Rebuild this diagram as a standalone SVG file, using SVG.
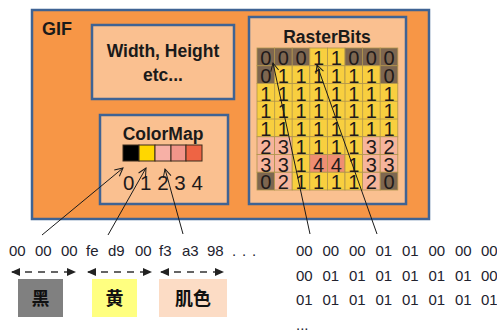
<svg xmlns="http://www.w3.org/2000/svg" width="497" height="332" viewBox="0 0 497 332">
  <style>
    .box { stroke: #3F6394; stroke-width: 2.5; }
    .outer { fill: #F79646; }
    .inner { fill: #FAC090; }
    .title { font-family: "Liberation Sans", Arial, sans-serif; font-weight: bold; fill: #1a1a1a; }
    .digit { font-family: "Liberation Sans", Arial, sans-serif; font-size: 20px; fill: #1f1a1a; text-anchor: middle; }
    .hex { font-family: "Liberation Sans", Arial, sans-serif; font-size: 15px; fill: #22222e; }
    .c0 { fill: #7D6650; } .c1 { fill: #F8CF3F; } .c2 { fill: #F6B49C; } .c3 { fill: #F6B49C; } .c4 { fill: #EF8E72; }
    .cell { stroke: #B0944C; stroke-width: 0.8; }
    .sw { stroke: #3A2A1A; stroke-width: 1; }
    .conn { stroke: #1a1a1a; stroke-width: 1; fill: none; }
    .dash { stroke: #333; stroke-width: 1.6; stroke-dasharray: 7 6; fill: none; }
    .cjk { font-family: "Noto Sans CJK SC", "Noto Sans CJK JP", sans-serif; font-weight: bold; font-size: 18px; fill: #111; text-anchor: middle; }
  </style>
  <defs>
    <marker id="open" markerWidth="10" markerHeight="10" refX="9" refY="5" orient="auto" markerUnits="userSpaceOnUse">
      <path d="M1,1 L9,5 L1,9" fill="none" stroke="#1a1a1a" stroke-width="1"/>
    </marker>
    <marker id="tri" markerWidth="9" markerHeight="8" refX="8" refY="4" orient="auto-start-reverse" markerUnits="userSpaceOnUse">
      <path d="M0,0 L9,4 L0,8 Z" fill="#222"/>
    </marker>
  </defs>

  <!-- GIF container -->
  <g id="gif">
    <rect class="box outer" x="32" y="10" width="397" height="209"/>
    <text class="title" x="42" y="35" font-size="18">GIF</text>
  </g>

  <!-- header fields -->
  <g id="header">
    <rect class="box inner" x="92" y="25" width="142" height="74"/>
    <text class="title" x="163" y="57" font-size="17.5" text-anchor="middle">Width, Height</text>
    <text class="title" x="163" y="81" font-size="17.5" text-anchor="middle">etc...</text>
  </g>

  <!-- palette -->
  <g id="colormap">
    <rect class="box inner" x="100" y="115" width="128" height="89"/>
    <text class="title" x="163" y="139.5" font-size="17.5" text-anchor="middle">ColorMap</text>
    <rect class="sw" x="123" y="145" width="16" height="16" fill="#000"/>
    <rect class="sw" x="139" y="145" width="16" height="16" fill="#FFD700"/>
    <rect class="sw" x="155" y="145" width="16" height="16" fill="#F7B0A6"/>
    <rect class="sw" x="171" y="145" width="15" height="16" fill="#F2958A"/>
    <rect class="sw" x="186" y="145" width="16" height="16" fill="#EE6444"/>
    <text x="123" y="190" font-family="Liberation Sans, Arial, sans-serif" font-size="20.5" fill="#1f1a1a">0 1 2 3 4</text>
  </g>

  <!-- pixel indices -->
  <g id="rasterbits">
    <rect class="box inner" x="249" y="17" width="157" height="187"/>
    <text class="title" x="327" y="42.5" font-size="17.5" text-anchor="middle">RasterBits</text>
    <g class="cell">
      <!-- row 0 -->
      <rect class="c0" x="257" y="48" width="17.6" height="17.75"/><rect class="c0" x="274.6" y="48" width="17.6" height="17.75"/><rect class="c0" x="292.2" y="48" width="17.6" height="17.75"/><rect class="c1" x="309.8" y="48" width="17.6" height="17.75"/><rect class="c1" x="327.4" y="48" width="17.6" height="17.75"/><rect class="c0" x="345" y="48" width="17.6" height="17.75"/><rect class="c0" x="362.6" y="48" width="17.6" height="17.75"/><rect class="c0" x="380.2" y="48" width="17.6" height="17.75"/>
      <!-- row 1 -->
      <rect class="c0" x="257" y="65.75" width="17.6" height="17.75"/><rect class="c1" x="274.6" y="65.75" width="17.6" height="17.75"/><rect class="c1" x="292.2" y="65.75" width="17.6" height="17.75"/><rect class="c1" x="309.8" y="65.75" width="17.6" height="17.75"/><rect class="c1" x="327.4" y="65.75" width="17.6" height="17.75"/><rect class="c1" x="345" y="65.75" width="17.6" height="17.75"/><rect class="c1" x="362.6" y="65.75" width="17.6" height="17.75"/><rect class="c0" x="380.2" y="65.75" width="17.6" height="17.75"/>
      <!-- rows 2-4 -->
      <rect class="c1" x="257" y="83.5" width="140.8" height="53.25"/>
      <!-- row 5 -->
      <rect class="c2" x="257" y="136.75" width="17.6" height="17.75"/><rect class="c3" x="274.6" y="136.75" width="17.6" height="17.75"/><rect class="c1" x="292.2" y="136.75" width="17.6" height="17.75"/><rect class="c1" x="309.8" y="136.75" width="17.6" height="17.75"/><rect class="c1" x="327.4" y="136.75" width="17.6" height="17.75"/><rect class="c1" x="345" y="136.75" width="17.6" height="17.75"/><rect class="c3" x="362.6" y="136.75" width="17.6" height="17.75"/><rect class="c2" x="380.2" y="136.75" width="17.6" height="17.75"/>
      <!-- row 6 -->
      <rect class="c3" x="257" y="154.5" width="17.6" height="17.75"/><rect class="c3" x="274.6" y="154.5" width="17.6" height="17.75"/><rect class="c1" x="292.2" y="154.5" width="17.6" height="17.75"/><rect class="c4" x="309.8" y="154.5" width="17.6" height="17.75"/><rect class="c4" x="327.4" y="154.5" width="17.6" height="17.75"/><rect class="c1" x="345" y="154.5" width="17.6" height="17.75"/><rect class="c3" x="362.6" y="154.5" width="17.6" height="17.75"/><rect class="c3" x="380.2" y="154.5" width="17.6" height="17.75"/>
      <!-- row 7 -->
      <rect class="c0" x="257" y="172.25" width="17.6" height="17.75"/><rect class="c2" x="274.6" y="172.25" width="17.6" height="17.75"/><rect class="c1" x="292.2" y="172.25" width="17.6" height="17.75"/><rect class="c1" x="309.8" y="172.25" width="17.6" height="17.75"/><rect class="c1" x="327.4" y="172.25" width="17.6" height="17.75"/><rect class="c1" x="345" y="172.25" width="17.6" height="17.75"/><rect class="c2" x="362.6" y="172.25" width="17.6" height="17.75"/><rect class="c0" x="380.2" y="172.25" width="17.6" height="17.75"/>
      <!-- grid lines for merged yellow rows -->
      <path d="M257,101.25 H397.8 M257,119 H397.8 M274.6,83.5 V136.75 M292.2,83.5 V136.75 M309.8,83.5 V136.75 M327.4,83.5 V136.75 M345,83.5 V136.75 M362.6,83.5 V136.75 M380.2,83.5 V136.75" fill="none"/>
    </g>
    <text class="digit" y="65"><tspan x="265.8">0</tspan><tspan x="283.4">0</tspan><tspan x="301">0</tspan><tspan x="318.6">1</tspan><tspan x="336.2">1</tspan><tspan x="353.8">0</tspan><tspan x="371.4">0</tspan><tspan x="389">0</tspan></text>
    <text class="digit" y="82.75"><tspan x="265.8">0</tspan><tspan x="283.4">1</tspan><tspan x="301">1</tspan><tspan x="318.6">1</tspan><tspan x="336.2">1</tspan><tspan x="353.8">1</tspan><tspan x="371.4">1</tspan><tspan x="389">0</tspan></text>
    <text class="digit" y="100.5"><tspan x="265.8">1</tspan><tspan x="283.4">1</tspan><tspan x="301">1</tspan><tspan x="318.6">1</tspan><tspan x="336.2">1</tspan><tspan x="353.8">1</tspan><tspan x="371.4">1</tspan><tspan x="389">1</tspan></text>
    <text class="digit" y="118.25"><tspan x="265.8">1</tspan><tspan x="283.4">1</tspan><tspan x="301">1</tspan><tspan x="318.6">1</tspan><tspan x="336.2">1</tspan><tspan x="353.8">1</tspan><tspan x="371.4">1</tspan><tspan x="389">1</tspan></text>
    <text class="digit" y="136"><tspan x="265.8">1</tspan><tspan x="283.4">1</tspan><tspan x="301">1</tspan><tspan x="318.6">1</tspan><tspan x="336.2">1</tspan><tspan x="353.8">1</tspan><tspan x="371.4">1</tspan><tspan x="389">1</tspan></text>
    <text class="digit" y="153.75"><tspan x="265.8">2</tspan><tspan x="283.4">3</tspan><tspan x="301">1</tspan><tspan x="318.6">1</tspan><tspan x="336.2">1</tspan><tspan x="353.8">1</tspan><tspan x="371.4">3</tspan><tspan x="389">2</tspan></text>
    <text class="digit" y="171.5"><tspan x="265.8">3</tspan><tspan x="283.4">3</tspan><tspan x="301">1</tspan><tspan x="318.6">4</tspan><tspan x="336.2">4</tspan><tspan x="353.8">1</tspan><tspan x="371.4">3</tspan><tspan x="389">3</tspan></text>
    <text class="digit" y="189.25"><tspan x="265.8">0</tspan><tspan x="283.4">2</tspan><tspan x="301">1</tspan><tspan x="318.6">1</tspan><tspan x="336.2">1</tspan><tspan x="353.8">1</tspan><tspan x="371.4">2</tspan><tspan x="389">0</tspan></text>
  </g>

  <!-- palette bytes -->
  <g id="palette-bytes">
    <text class="hex" y="256"><tspan x="9">00</tspan><tspan x="35">00</tspan><tspan x="61">00</tspan><tspan x="86">fe</tspan><tspan x="108">d9</tspan><tspan x="135">00</tspan><tspan x="159">f3</tspan><tspan x="182">a3</tspan><tspan x="207">98</tspan><tspan x="232">.</tspan><tspan x="242">.</tspan><tspan x="252">.</tspan></text>
  </g>

  <!-- colour labels -->
  <g id="label-black">
    <rect x="18" y="279" width="45" height="38" fill="#808080"/>
    <text class="cjk" x="40.5" y="305">黑</text>
  </g>
  <g id="label-yellow">
    <rect x="92" y="279" width="45" height="38" fill="#FFFF80"/>
    <text class="cjk" x="114.5" y="305">黄</text>
  </g>
  <g id="label-skin">
    <rect x="159" y="279" width="68" height="38" fill="#FCDCC5"/>
    <text class="cjk" x="193" y="305">肌色</text>
  </g>

  <!-- pixel bytes -->
  <g id="pixel-bytes" class="hex">
    <text y="256"><tspan x="296">00</tspan><tspan x="322.5">00</tspan><tspan x="349">00</tspan><tspan x="375.5">01</tspan><tspan x="402">01</tspan><tspan x="428.5">00</tspan><tspan x="455">00</tspan><tspan x="481">00</tspan></text>
    <text y="281"><tspan x="296">00</tspan><tspan x="322.5">01</tspan><tspan x="349">01</tspan><tspan x="375.5">01</tspan><tspan x="402">01</tspan><tspan x="428.5">01</tspan><tspan x="455">01</tspan><tspan x="481">00</tspan></text>
    <text y="305"><tspan x="296">01</tspan><tspan x="322.5">01</tspan><tspan x="349">01</tspan><tspan x="375.5">01</tspan><tspan x="402">01</tspan><tspan x="428.5">01</tspan><tspan x="455">01</tspan><tspan x="481">01</tspan></text>
    <text x="296" y="330">...</text>
  </g>

  <!-- connectors -->
  <g id="connectors">
    <line class="conn" x1="42" y1="235" x2="123" y2="168" marker-end="url(#open)"/>
    <line class="conn" x1="108" y1="235" x2="146" y2="168" marker-end="url(#open)"/>
    <line class="conn" x1="183" y1="234" x2="165" y2="169" marker-end="url(#open)"/>
    <line class="conn" x1="310" y1="234" x2="273" y2="63" marker-end="url(#open)"/>
    <line class="conn" x1="377" y1="234" x2="317" y2="65" marker-end="url(#open)"/>
    <line class="dash" x1="12" y1="272" x2="75" y2="272" marker-start="url(#tri)" marker-end="url(#tri)"/>
    <line class="dash" x1="88" y1="272" x2="151" y2="272" marker-start="url(#tri)" marker-end="url(#tri)"/>
    <line class="dash" x1="161" y1="272" x2="223" y2="272" marker-start="url(#tri)" marker-end="url(#tri)"/>
  </g>
</svg>
